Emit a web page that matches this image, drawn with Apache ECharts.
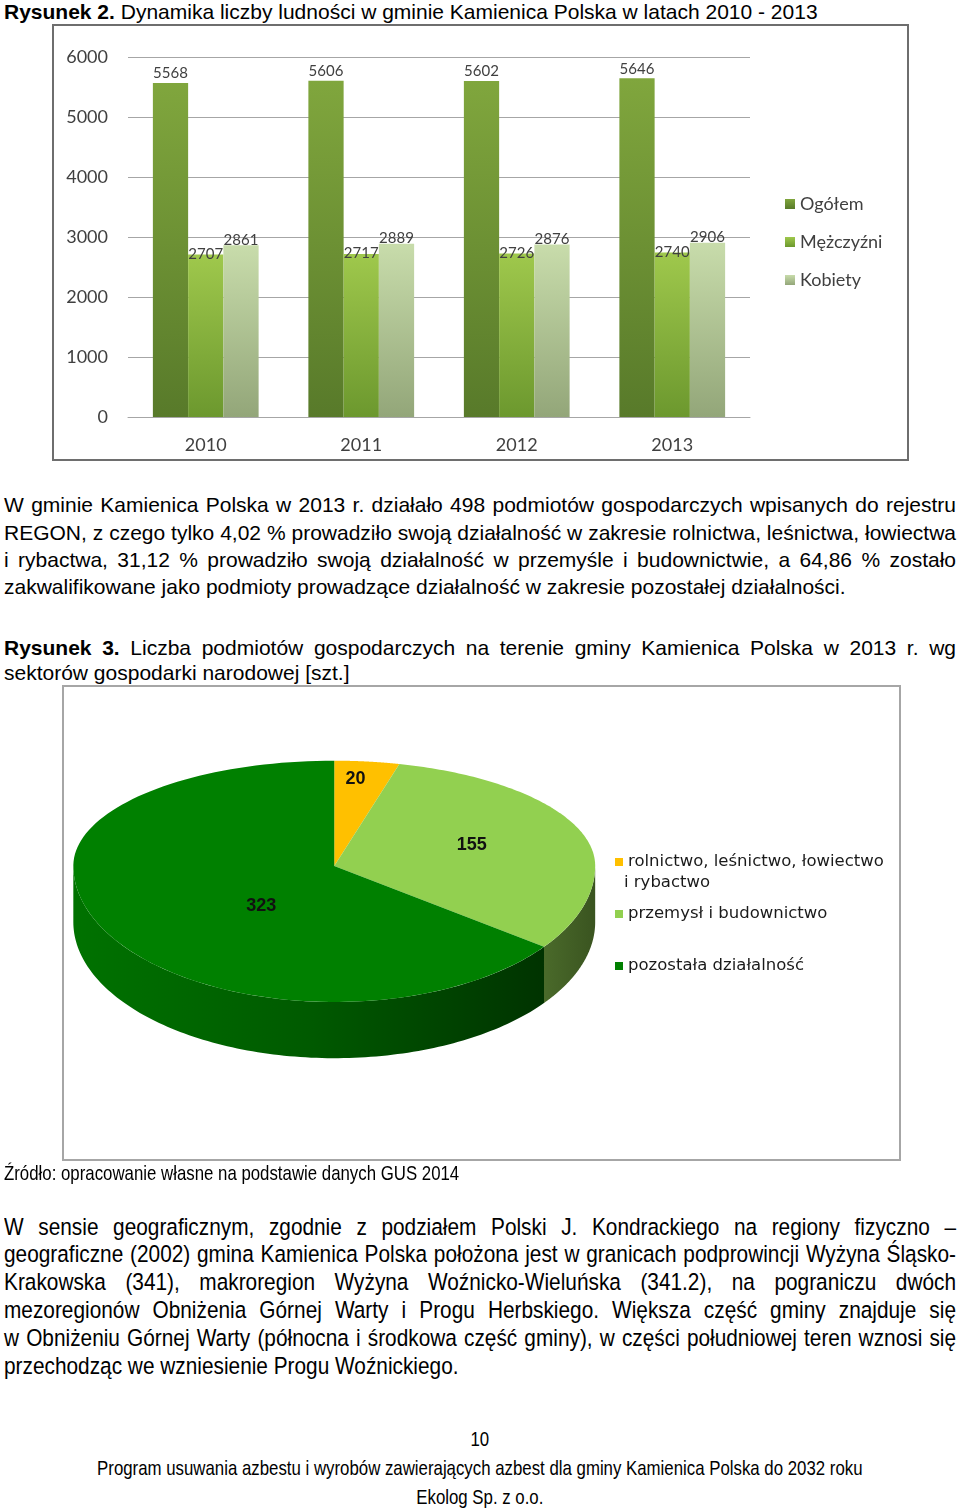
<!DOCTYPE html>
<html><head><meta charset="utf-8">
<script src="https://cdn.jsdelivr.net/npm/echarts@6/dist/echarts.min.js"></script>
<style>
body{margin:0;width:960px;height:1509px;position:relative;background:#fff;font-family:"Liberation Sans",Arial,sans-serif;color:#000;overflow:hidden}
.ln{position:absolute;left:4px;width:952px;white-space:nowrap;font-size:21px;line-height:28px;}
.j{text-align:justify;text-align-last:justify;white-space:normal}
.nar{transform:scaleX(0.85);transform-origin:0 0;width:1120px;font-size:24.5px}
.c{text-align:center;left:0;width:1129px;font-size:19.8px}
.box{position:absolute;box-sizing:border-box}
.chart{position:absolute}
</style></head>
<body>
<div class="ln" style="top:-2px"><b>Rysunek 2.</b> Dynamika liczby ludności w gminie Kamienica Polska w latach 2010 - 2013</div>
<div class="box" style="left:52px;top:24px;width:857px;height:437px;border:2px solid #6e6e6e"></div>
<div id="bar" class="chart" style="left:52px;top:24px;width:857px;height:437px"></div>

<div class="ln j" style="top:491px">W gminie Kamienica Polska w 2013 r. działało 498 podmiotów gospodarczych wpisanych do rejestru</div>
<div class="ln j" style="top:519px">REGON, z czego tylko 4,02 % prowadziło swoją działalność w zakresie rolnictwa, leśnictwa, łowiectwa</div>
<div class="ln j" style="top:546px">i rybactwa, 31,12 % prowadziło swoją działalność w przemyśle i budownictwie, a 64,86 % zostało</div>
<div class="ln" style="top:573px">zakwalifikowane jako podmioty prowadzące działalność w zakresie pozostałej działalności.</div>

<div class="ln j" style="top:634px"><b>Rysunek 3.</b> Liczba podmiotów gospodarczych na terenie gminy Kamienica Polska w 2013 r. wg</div>
<div class="ln" style="top:659px">sektorów gospodarki narodowej [szt.]</div>

<div class="box" style="left:62px;top:685px;width:839px;height:476px;border:2px solid #a6a6a6"></div>
<div id="pie" class="chart" style="left:62px;top:685px;width:839px;height:476px"></div>

<div class="ln nar" style="top:1159px;font-size:19.8px">Źródło: opracowanie własne na podstawie danych GUS 2014</div>

<div class="ln j nar" style="top:1213px">W sensie geograficznym, zgodnie z podziałem Polski J. Kondrackiego na regiony fizyczno –</div>
<div class="ln j nar" style="top:1240px">geograficzne (2002) gmina Kamienica Polska położona jest w granicach podprowincji Wyżyna Śląsko-</div>
<div class="ln j nar" style="top:1268px">Krakowska (341), makroregion Wyżyna Woźnicko-Wieluńska (341.2), na pograniczu dwóch</div>
<div class="ln j nar" style="top:1296px">mezoregionów Obniżenia Górnej Warty i Progu Herbskiego. Większa część gminy znajduje się</div>
<div class="ln j nar" style="top:1324px">w Obniżeniu Górnej Warty (północna i środkowa część gminy), w części południowej teren wznosi się</div>
<div class="ln nar" style="top:1352px">przechodząc we wzniesienie Progu Woźnickiego.</div>

<div class="ln nar c" style="top:1425px">10</div>
<div class="ln nar c" style="top:1454px">Program usuwania azbestu i wyrobów zawierających azbest dla gminy Kamienica Polska do 2032 roku</div>
<div class="ln nar c" style="top:1483px">Ekolog Sp. z o.o.</div>

<script>
// ---- data: Rysunek 2 ----
const years = ['2010', '2011', '2012', '2013'];
const ogolem = [5568, 5606, 5602, 5646];
const mezczyzni = [2707, 2717, 2726, 2740];
const kobiety = [2861, 2889, 2876, 2906];
const barSeriesNames = ['Ogółem', 'Mężczyźni', 'Kobiety'];
const yMin = 0, yMax = 6000, yStep = 1000;

// ---- data: Rysunek 3 ----
const sectorNames = ['rolnictwo, leśnictwo, łowiectwo i rybactwo', 'przemysł i budownictwo', 'pozostała działalność'];
const sectorValues = [20, 155, 323];

// keep each justified line on one line
document.querySelectorAll('.j').forEach(el => {
  let fs = parseFloat(getComputedStyle(el).fontSize);
  while (el.scrollHeight > 32 && fs > 10) { fs -= 0.25; el.style.fontSize = fs + 'px'; }
});

const G = echarts.graphic;
function vgrad(top, bottom) {
  return new G.LinearGradient(0, 0, 0, 1, [{offset: 0, color: top}, {offset: 1, color: bottom}]);
}
const barFont = 'Lato';
const gray = '#404040';

const bar = echarts.init(document.getElementById('bar'), null, {renderer: 'canvas'});
bar.setOption({
  animation: false,
  grid: {left: 76, top: 33, width: 622, height: 360, containLabel: false},
  legend: {
    orient: 'vertical', left: 728, top: 165, itemWidth: 10, itemHeight: 10, itemGap: 18,
    icon: 'rect',
    textStyle: {fontFamily: barFont, fontSize: 18, color: gray, lineHeight: 20},
    data: barSeriesNames
  },
  xAxis: {
    type: 'category', data: years,
    axisLine: {lineStyle: {color: '#a6a6a6', width: 1}},
    axisTick: {show: false},
    axisLabel: {fontFamily: barFont, fontSize: 18, color: gray, margin: 19}
  },
  yAxis: {
    type: 'value', min: yMin, max: yMax, interval: yStep,
    axisLine: {show: false}, axisTick: {show: false},
    axisLabel: {fontFamily: barFont, fontSize: 18, color: gray, margin: 20, formatter: v => String(v)},
    splitLine: {lineStyle: {color: '#a6a6a6', width: 1}}
  },
  series: [
    {name: barSeriesNames[0], type: 'bar', data: ogolem, barGap: '0%', barCategoryGap: '32%',
     itemStyle: {color: vgrad('#80a63d', '#587a2a')},
     label: {show: true, position: 'top', distance: 2, fontFamily: barFont, fontSize: 15, color: gray}},
    {name: barSeriesNames[1], type: 'bar', data: mezczyzni, barGap: '0%', barCategoryGap: '32%',
     itemStyle: {color: vgrad('#9fc84c', '#6c982e')},
     label: {show: true, position: 'top', distance: -7, fontFamily: barFont, fontSize: 15, color: gray}},
    {name: barSeriesNames[2], type: 'bar', data: kobiety, barGap: '0%', barCategoryGap: '32%',
     itemStyle: {color: vgrad('#c8dcab', '#93a679')},
     label: {show: true, position: 'top', distance: -2, fontFamily: barFont, fontSize: 15, color: gray}}
  ]
});

// ---- 3D-looking pie via custom series ----
const topColors = ['#ffc000', '#92d050', '#008000'];
const sideStops = [
  [{offset: 0, color: '#b38600'}, {offset: 1, color: '#805f00'}],
  [{offset: 0, color: '#4a6a2a'}, {offset: 1, color: '#3a5420'}],
  [{offset: 0, color: '#007200'}, {offset: 0.5, color: '#005a00'}, {offset: 1, color: '#003300'}]
];
const total = sectorValues.reduce((a, b) => a + b, 0);

function makeRender(i) {
  return function (params, api) {
    const w = api.getWidth(), h = api.getHeight();
    const cx = w * 0.3245, cy = h * 0.38;
    const rx = w * 0.311, ryTop = h * 0.221, ryBot = h * 0.286, depth = h * 0.118;
    function pt(t, dy) {
      const c = Math.cos(t), s = Math.sin(t);
      return [cx + rx * s, cy - (c > 0 ? ryTop : ryBot) * c + dy];
    }
    let before = 0;
    for (let j = 0; j < i; j++) before += sectorValues[j];
    const v = api.value(0);
    const a0 = before / total * Math.PI * 2;
    const a1 = (before + v) / total * Math.PI * 2;
    const N = 120;
    const children = [];
    // side wall (front half only)
    const s = Math.max(a0, Math.PI / 2), e = Math.min(a1, Math.PI * 1.5);
    if (s < e) {
      const up = [], dn = [];
      for (let k = 0; k <= N; k++) {
        const t = s + (e - s) * k / N;
        up.push(pt(t, 0));
        dn.push(pt(t, depth));
      }
      children.push({type: 'polygon', z2: 1, shape: {points: up.concat(dn.reverse())},
        style: {fill: new G.LinearGradient(0, 0, 1, 0, sideStops[i])}});
    }
    // top face
    const pts = [[cx, cy]];
    for (let k = 0; k <= N; k++) pts.push(pt(a0 + (a1 - a0) * k / N, 0));
    children.push({type: 'polygon', z2: 10, shape: {points: pts}, style: {fill: topColors[i]}});
    // value label placed in the slice (perspective-aware heuristic)
    const am = (a0 + a1) / 2, half = (a1 - a0) / 2;
    const f = 0.9 * (2 / 3) * Math.sin(half) / half + 0.05;
    const c = Math.cos(am), sn = Math.sin(am);
    const lx = cx + rx * f * sn;
    const ly = cy + depth * 0.15 - ((c > 0 ? ryTop : ryBot) * f + depth * 0.5) * c;
    children.push({type: 'text', z2: 20, style: {
      text: String(v), x: lx, y: ly, align: 'center', verticalAlign: 'middle',
      fontFamily: 'Liberation Sans', fontWeight: 'bold', fontSize: 18, fill: '#111'}});
    return {type: 'group', children: children};
  };
}

const pieLegendText = {fontFamily: 'DejaVu Sans', fontSize: 16.5, color: '#1a1a1a', lineHeight: 22};
const pie = echarts.init(document.getElementById('pie'), null, {renderer: 'canvas'});
pie.setOption({
  animation: false,
  legend: [
    {data: [sectorNames[0]], left: 548, top: 161, itemWidth: 8, itemHeight: 8, icon: 'rect',
     formatter: () => 'rolnictwo, leśnictwo, łowiectwo', textStyle: pieLegendText},
    {data: [sectorNames[1]], left: 548, top: 213, itemWidth: 8, itemHeight: 8, icon: 'rect', textStyle: pieLegendText},
    {data: [sectorNames[2]], left: 548, top: 265, itemWidth: 8, itemHeight: 8, icon: 'rect', textStyle: pieLegendText}
  ],
  graphic: [{type: 'text', left: 562, top: 187, style: {text: 'i rybactwo', fontFamily: 'DejaVu Sans', fontSize: 16.5, fill: '#1a1a1a', lineHeight: 22}}],
  series: sectorNames.map((n, i) => ({
    type: 'custom', name: n, coordinateSystem: 'none',
    data: [[sectorValues[i]]],
    itemStyle: {color: topColors[i]},
    renderItem: makeRender(i)
  }))
});
</script>
</body></html>
